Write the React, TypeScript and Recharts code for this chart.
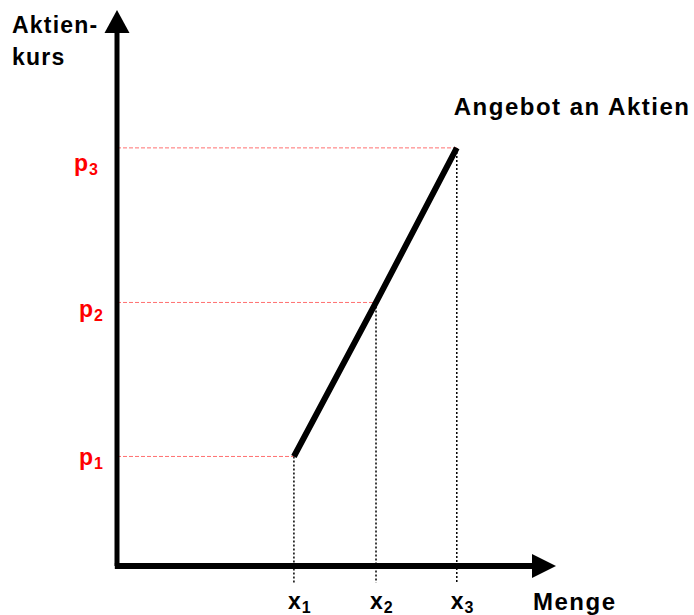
import React from 'react';
import { LineChart, Line, XAxis, YAxis, ReferenceLine, ReferenceDot, Label } from 'recharts';

// Mengen (x1, x2, x3) and Aktienkurse (p1, p2, p3) of the Angebotskurve
const quantities = [40.3, 59.0, 77.4];
const prices = [19.7, 47.4, 75.2];
const xTickLabels = ['1', '2', '3'];
const yTickLabels = ['1', '2', '3'];
const axisTitleY = ['Aktien-', 'kurs'];
const axisTitleX = 'Menge';
const curveLabel = 'Angebot an Aktien';

const data = quantities.map((x, i) => ({ x, p: prices[i] }));

const FONT = '"Liberation Sans", Arial, sans-serif';
const RED = '#ff0000';

const pOffsets = [{ dx: 79, dy: 9 }, { dx: 79, dy: 15 }, { dx: 74, dy: 23 }];

const YTick = (props: any) => {
  const { y, index } = props;
  const o = pOffsets[index] || { dx: 79, dy: 12 };
  return (
    <text x={o.dx} y={y + o.dy} fill={RED} fontFamily={FONT} fontWeight="bold" fontSize={23} letterSpacing={1}>
      <tspan>p</tspan>
      <tspan fontSize={16} dy={4}>{yTickLabels[index]}</tspan>
    </text>
  );
};

const XTick = (props: any) => {
  const { x, index } = props;
  return (
    <text x={x - 6} y={609} fill="#000" fontFamily={FONT} fontWeight="bold" fontSize={23} letterSpacing={1}>
      <tspan>x</tspan>
      <tspan fontSize={16} dy={4}>{xTickLabels[index]}</tspan>
    </text>
  );
};

const UpArrow = (props: any) => {
  const { cx, cy } = props;
  return <polygon points={`${cx},${cy} ${cx - 12.5},${cy + 23} ${cx + 12.5},${cy + 23}`} fill="#000" />;
};

const RightArrow = (props: any) => {
  const { cx, cy } = props;
  return <polygon points={`${cx},${cy} ${cx - 24},${cy - 12} ${cx - 24},${cy + 12}`} fill="#000" />;
};

const YTitle = () => (
  <text fill="#000" fontFamily={FONT} fontWeight="bold" fontSize={23} letterSpacing={1.2}>
    <tspan x={12} y={33}>{axisTitleY[0]}</tspan>
    <tspan x={12} y={65}>{axisTitleY[1]}</tspan>
  </text>
);

const XTitle = () => (
  <text x={533} y={610} fill="#000" fontFamily={FONT} fontWeight="bold" fontSize={24} letterSpacing={1.5}>
    {axisTitleX}
  </text>
);

const CurveTitle = (props: any) => {
  const vb = props.viewBox || {};
  const x = vb.x ?? 457;
  const y = vb.y ?? 149;
  const w = vb.width ?? 0;
  const h = vb.height ?? 0;
  return (
    <text x={x + w / 2 - 3} y={y + h / 2 - 33} fill="#000" fontFamily={FONT} fontWeight="bold" fontSize={24} letterSpacing={1.5}>
      {curveLabel}
    </text>
  );
};

export default function App() {
  const last = data.length - 1;
  return (
    <div style={{ position: 'absolute', left: 0, top: 0, width: 694, height: 615, background: '#fff' }}>
      <LineChart
        width={694}
        height={615}
        data={data}
        margin={{ top: 10, right: 138, bottom: 4, left: 57 }}
      >
        <XAxis
          dataKey="x"
          type="number"
          domain={[0, 100]}
          ticks={quantities}
          axisLine={false}
          tickLine={false}
          height={45}
          tick={<XTick />}
          interval={0}
        >
          <Label content={<XTitle />} />
        </XAxis>
        <YAxis
          type="number"
          domain={[0, 100]}
          ticks={prices}
          axisLine={false}
          tickLine={false}
          width={60}
          tick={<YTick />}
          interval={0}
        >
          <Label content={<YTitle />} />
        </YAxis>

        {data.map((d, i) => (
          <ReferenceLine
            key={`h${i}`}
            segment={[{ x: 0, y: d.p }, { x: d.x, y: d.p }]}
            stroke="#ff7070"
            strokeWidth={1}
            strokeDasharray="4 2"
            ifOverflow="visible"
          />
        ))}
        {data.map((d, i) => (
          <ReferenceLine
            key={`v${i}`}
            segment={[{ x: d.x, y: d.p }, { x: d.x, y: -3 }]}
            stroke="#000"
            strokeWidth={1.5}
            strokeDasharray="2 2"
            ifOverflow="visible"
          />
        ))}

        <ReferenceLine segment={[{ x: 0, y: 0 }, { x: 0, y: 96 }]} stroke="#000" strokeWidth={5} ifOverflow="visible" />
        <ReferenceLine segment={[{ x: -0.5, y: 0 }, { x: 95, y: 0 }]} stroke="#000" strokeWidth={6} ifOverflow="visible" />
        <ReferenceDot x={0} y={100} r={1} shape={<UpArrow />} ifOverflow="visible" />
        <ReferenceDot x={100} y={0} r={1} shape={<RightArrow />} ifOverflow="visible" />

        <Line
          dataKey="p"
          stroke="#000"
          strokeWidth={6}
          dot={false}
          activeDot={false}
          isAnimationActive={false}
        />
        <ReferenceDot x={data[last].x} y={data[last].p} r={0} fill="none" stroke="none" ifOverflow="visible">
          <Label content={<CurveTitle />} />
        </ReferenceDot>
      </LineChart>
    </div>
  );
}
